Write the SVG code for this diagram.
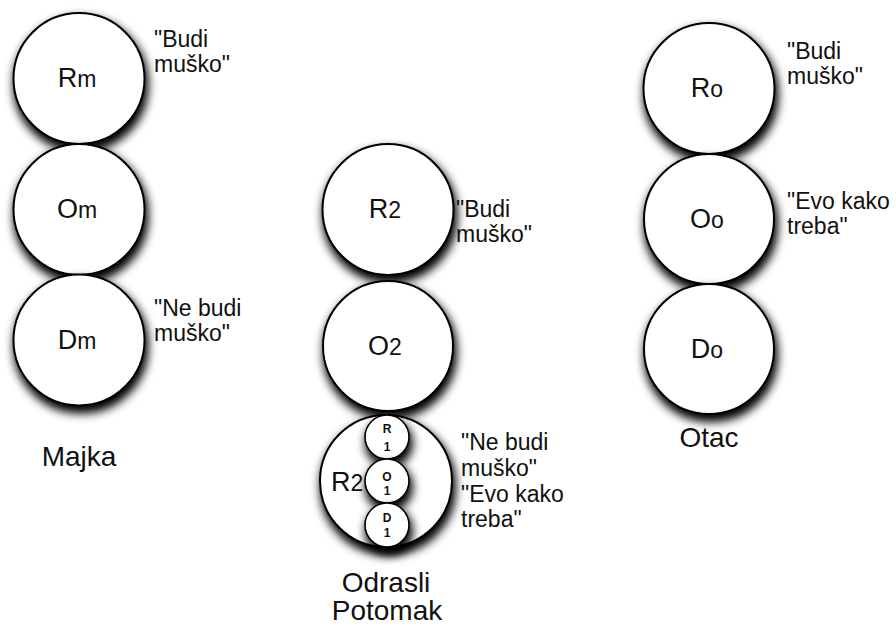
<svg xmlns="http://www.w3.org/2000/svg" width="896" height="628" viewBox="0 0 896 628">
<defs>
<filter id="sh" x="-30%" y="-30%" width="170%" height="170%">
<feMorphology in="SourceAlpha" operator="dilate" radius="1"/>
<feGaussianBlur stdDeviation="5"/>
<feOffset dx="2" dy="6" result="b"/>
<feMerge><feMergeNode/><feMergeNode in="SourceGraphic"/></feMerge>
</filter>
<style>
.c{fill:#fff;stroke:#000;stroke-width:2;filter:url(#sh)}
.s{fill:#fff;stroke:#000;stroke-width:1.6;filter:url(#sh)}
text{font-family:"Liberation Sans",Arial,Helvetica,sans-serif;fill:#111}
.big{font-size:27px;text-anchor:middle}
.sub{font-size:23px}
.ann{font-size:23px}
.lab{font-size:28px;text-anchor:middle}
.tiny{font-size:12px;font-weight:bold;text-anchor:middle}
</style>
</defs>
<rect width="896" height="628" fill="#fff"/>
<g id="connectors"/>
<g id="majka">
<g id="Rm"><circle class="c" cx="79" cy="78.5" r="65.5"/><text class="big" x="77" y="87">R<tspan class="sub">m</tspan></text></g>
<g id="Om"><circle class="c" cx="79" cy="209.5" r="65.5"/><text class="big" x="77" y="218">O<tspan class="sub">m</tspan></text></g>
<g id="Dm"><circle class="c" cx="79" cy="340" r="65.5"/><text class="big" x="77" y="349">D<tspan class="sub">m</tspan></text></g>
<text class="ann" x="154" y="47">"Budi</text>
<text class="ann" x="154" y="72">muško"</text>
<text class="ann" x="154" y="316">"Ne budi</text>
<text class="ann" x="154" y="341">muško"</text>
<text class="lab" x="79" y="466">Majka</text>
</g>
<g id="potomak">
<g id="R2"><circle class="c" cx="388" cy="209.5" r="65.5"/><text class="big" x="385" y="218">R<tspan class="sub">2</tspan></text></g>
<g id="O2"><circle class="c" cx="388" cy="346" r="65"/><text class="big" x="385" y="355">O<tspan class="sub">2</tspan></text></g>
<g id="R2b">
<circle class="c" cx="386" cy="481" r="66"/>
<text x="331" y="491" style="font-size:27px">R<tspan class="sub">2</tspan></text>
<g id="R1"><circle class="s" cx="387" cy="437" r="22"/><text class="tiny" x="387" y="433">R</text><text class="tiny" x="387" y="451">1</text></g>
<g id="O1"><circle class="s" cx="387" cy="481" r="22"/><text class="tiny" x="387" y="481">O</text><text class="tiny" x="387" y="495">1</text></g>
<g id="D1"><circle class="s" cx="387" cy="525" r="22"/><text class="tiny" x="387" y="522">D</text><text class="tiny" x="387" y="537">1</text></g>
</g>
<text class="ann" x="456" y="217">"Budi</text>
<text class="ann" x="456" y="242">muško"</text>
<text class="ann" x="461" y="450">"Ne budi</text>
<text class="ann" x="461" y="476">muško"</text>
<text class="ann" x="461" y="502">"Evo kako</text>
<text class="ann" x="461" y="527">treba"</text>
<text class="lab" x="386" y="592">Odrasli</text>
<text class="lab" x="387" y="620">Potomak</text>
</g>
<g id="otac">
<g id="Ro"><circle class="c" cx="709" cy="88.5" r="65.5"/><text class="big" x="707" y="97">R<tspan class="sub">o</tspan></text></g>
<g id="Oo"><circle class="c" cx="709" cy="219" r="65"/><text class="big" x="707" y="228">O<tspan class="sub">o</tspan></text></g>
<g id="Do"><circle class="c" cx="709" cy="349" r="65"/><text class="big" x="707" y="358">D<tspan class="sub">o</tspan></text></g>
<text class="ann" x="787" y="59">"Budi</text>
<text class="ann" x="787" y="84">muško"</text>
<text class="ann" x="787" y="209">"Evo kako</text>
<text class="ann" x="787" y="234">treba"</text>
<text class="lab" x="709" y="447">Otac</text>
</g>
</svg>
